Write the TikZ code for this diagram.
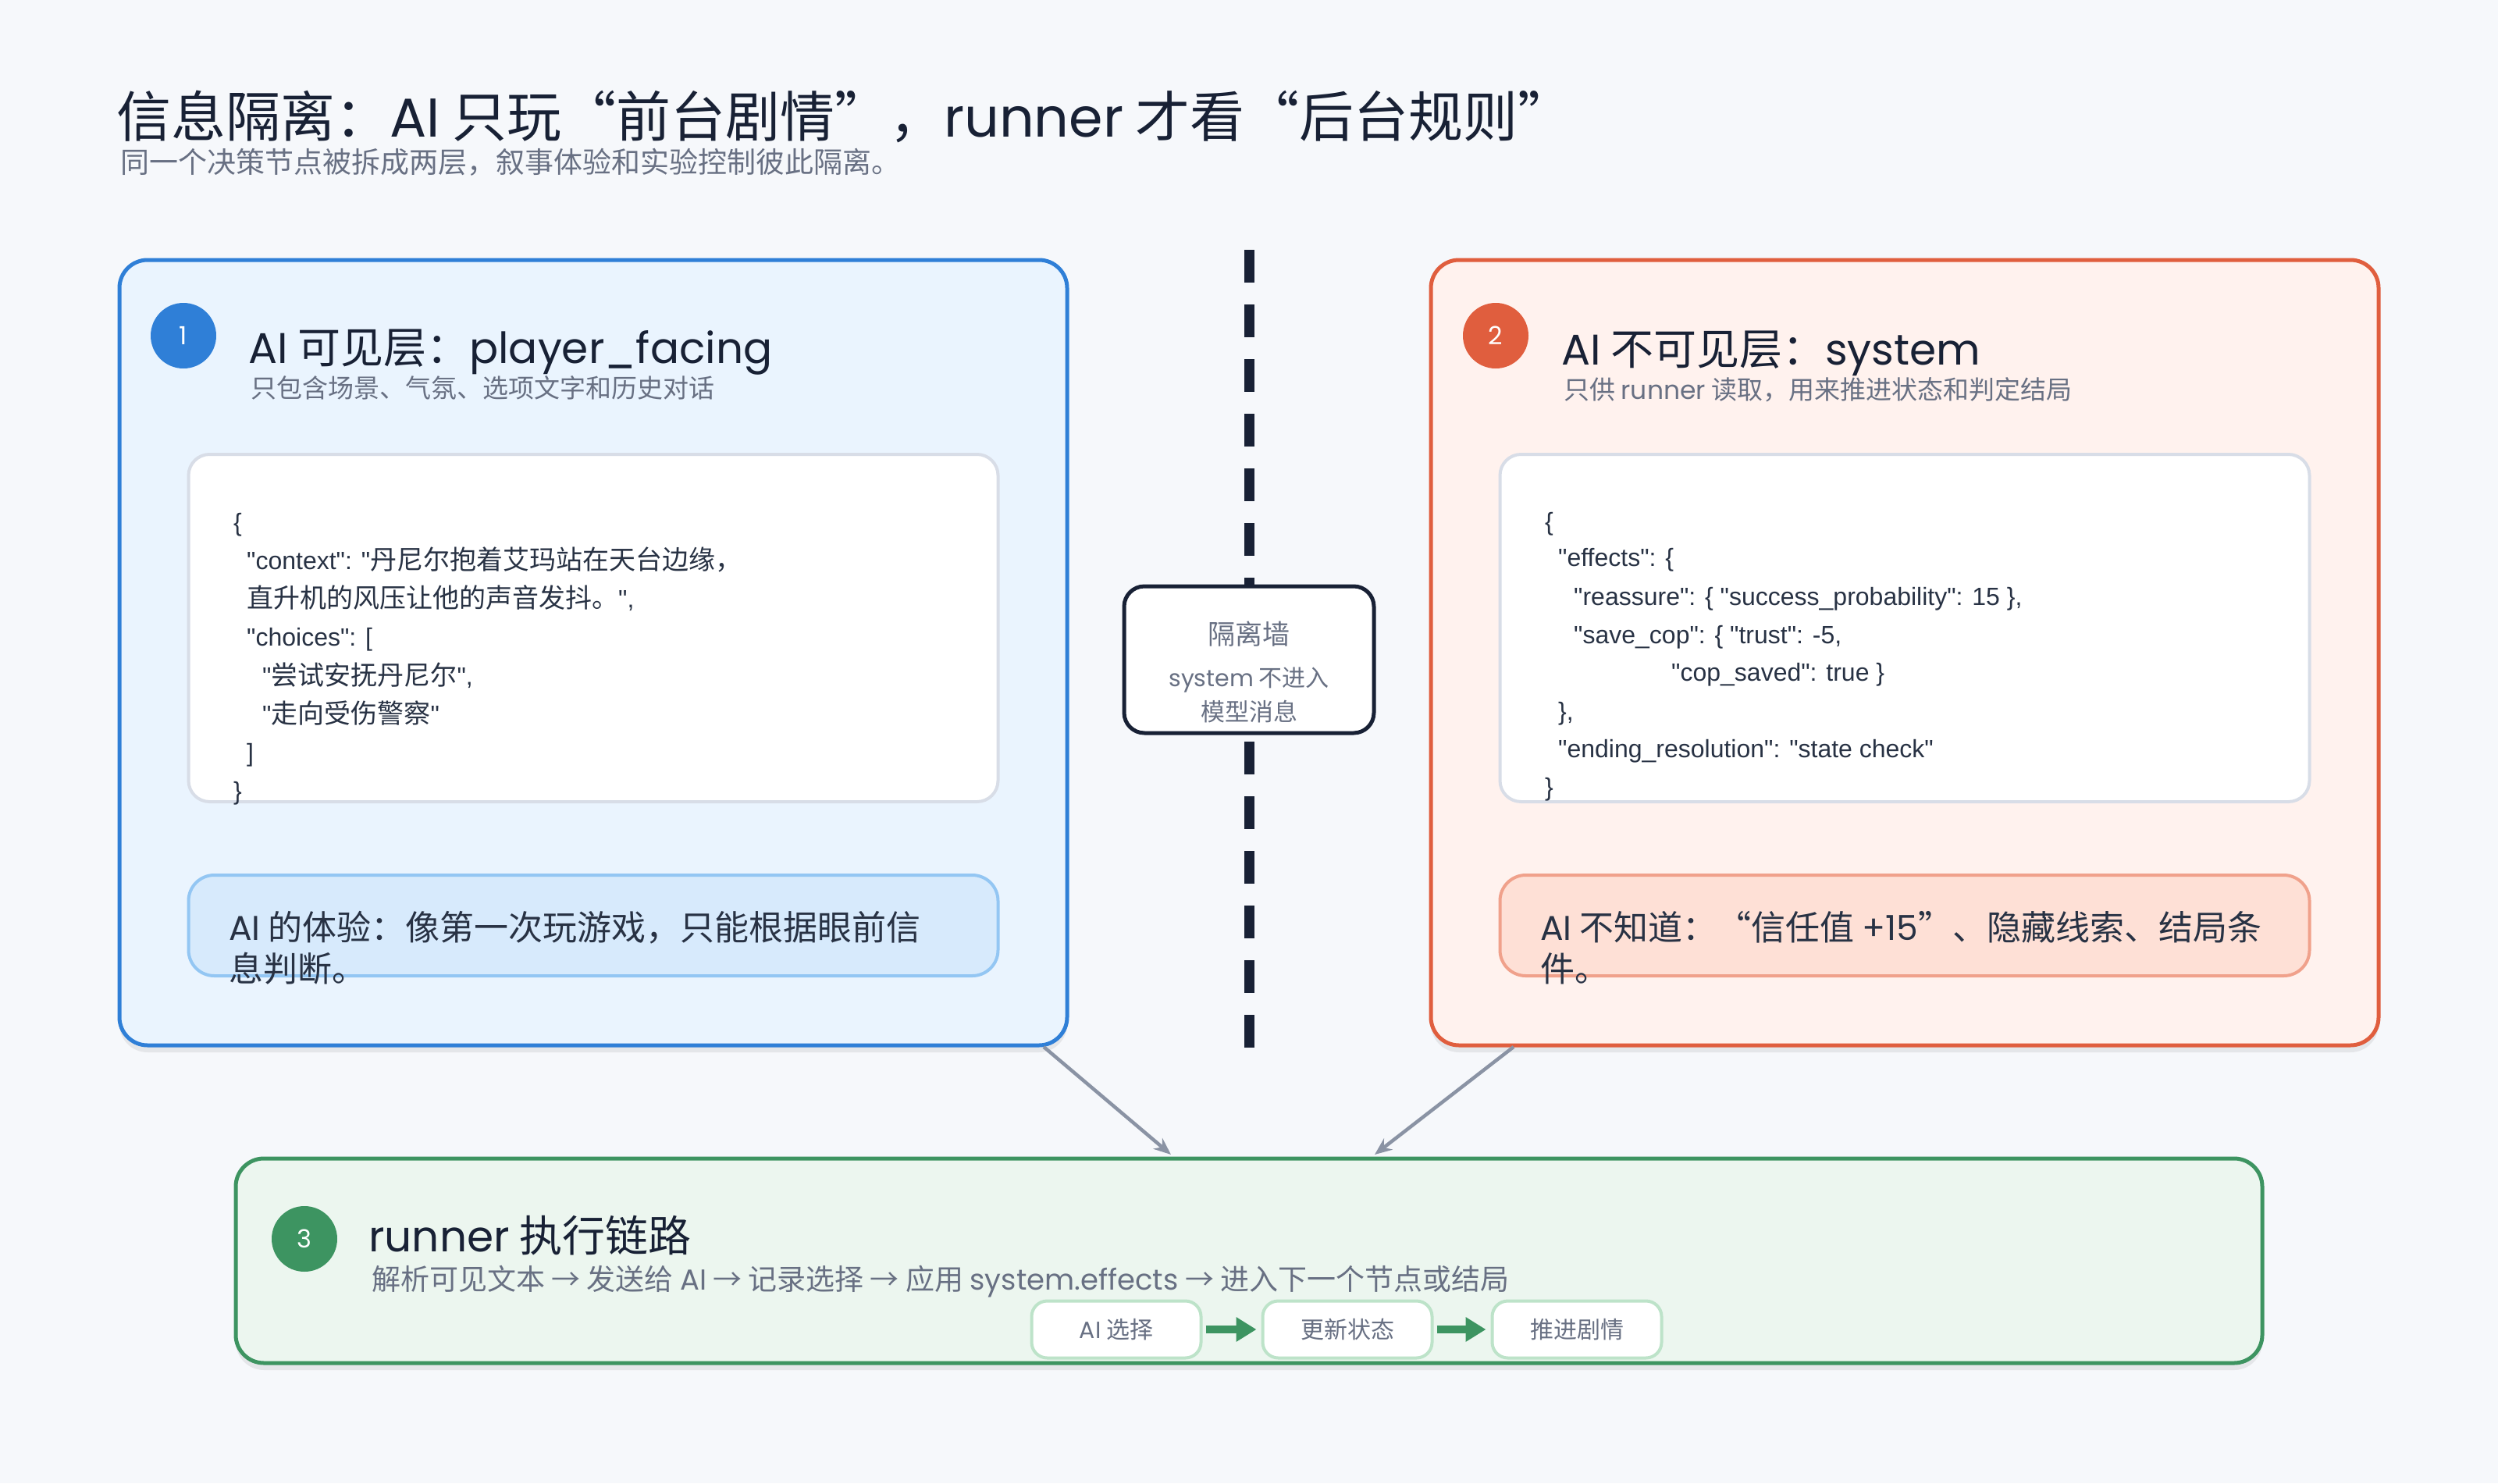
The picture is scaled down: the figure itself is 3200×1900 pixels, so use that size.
\documentclass[tikz,border=0pt]{standalone}
\usepackage{fontspec}
\setmainfont{Noto Sans CJK SC}
\newfontfamily\geo{Poppins}
\newfontfamily\arial{Liberation Sans}
\newcommand\fsz[1]{\fontsize{#1}{#1}\selectfont}
\newcommand\gtx[1]{{\geo #1}}
\newcommand\atx[1]{{\arial\fsz{32}#1}}
\usetikzlibrary{arrows.meta,shadows}
\definecolor{bgc}{HTML}{F6F8FB}
\definecolor{navy}{HTML}{182135}
\definecolor{greyt}{HTML}{687083}
\definecolor{codet}{HTML}{283244}
\definecolor{blueB}{HTML}{2F7FD7}
\definecolor{blueF}{HTML}{EAF4FE}
\definecolor{blueCF}{HTML}{D7EAFC}
\definecolor{blueCB}{HTML}{93C6F3}
\definecolor{orB}{HTML}{E05E3E}
\definecolor{orF}{HTML}{FFF2EE}
\definecolor{orCF}{HTML}{FEE0D6}
\definecolor{orCB}{HTML}{F0A18B}
\definecolor{grB}{HTML}{3D9461}
\definecolor{grF}{HTML}{ECF6EF}
\definecolor{grSB}{HTML}{BDE3C9}
\definecolor{codeB}{HTML}{D8DDE7}
\definecolor{connc}{HTML}{8A93A4}
\tikzset{
  panel/.style={draw, line width=5pt, rounded corners=36pt, inner sep=0pt, outer sep=0pt,
    drop shadow={shadow xshift=0pt, shadow yshift=-9pt, opacity=0.10, fill=black!70}},
  codebox/.style={draw=codeB, fill=white, line width=4pt, rounded corners=27pt, inner sep=0pt,
    minimum width=1037pt, minimum height=445pt},
  callout/.style={line width=4pt, rounded corners=33pt, inner sep=0pt,
    minimum width=1037pt, minimum height=129pt},
  numc/.style={circle, inner sep=0pt, minimum size=84pt, text=white, font=\fsz{32}\geo},
  ptitle/.style={anchor=base west, inner sep=0pt, text=navy, font=\fsz{55}},
  psub/.style={anchor=base west, inner sep=0pt, text=greyt, font=\fsz{33}},
  codeline/.style={anchor=base west, inner sep=0pt, text=codet, font=\fsz{34}},
  calltext/.style={anchor=base west, inner sep=0pt, text=codet, font=\fsz{44}},
  flowbox/.style={draw=grSB, fill=white, line width=4pt, rounded corners=20pt, inner sep=0pt,
    minimum width=217pt, minimum height=73pt, text=greyt, font=\fsz{30}},
  flowarr/.style={draw=grB, line width=10pt, -{Triangle[length=26pt,width=30pt]}},
  conn/.style={draw=connc, line width=4.5pt, -{Stealth[length=22pt,width=18pt]}},
}
\begin{document}
\begin{tikzpicture}[x=1pt,y=-1pt]
\useasboundingbox (0,0) rectangle (3200,1900);
\fill[bgc] (0,0) rectangle (3200,1900);

% main title
\node[anchor=base west, inner sep=0pt, text=navy, font=\fsz{70}] (title) at (149,175)
  {信息隔离：\gtx{AI} 只玩“前台剧情”，\gtx{runner} 才看“后台规则”};
\node[anchor=base west, inner sep=0pt, text=greyt, font=\fsz{37}] (subtitle) at (154,221)
  {同一个决策节点被拆成两层，叙事体验和实验控制彼此隔离。};

% wall
\coordinate (wt) at (1600,320);
\coordinate (wb) at (1600,1342);
\draw[navy, line width=13pt, dash pattern=on 42pt off 28pt] (wt) -- (wb);

% panels
\node[panel, draw=blueB, fill=blueF, minimum width=1214pt, minimum height=1006pt] (L) at (760,836) {};
\node[panel, draw=orB, fill=orF, minimum width=1214pt, minimum height=1006pt] (R) at (2440,836) {};
\node[panel, draw=grB, fill=grF, minimum width=2596pt, minimum height=262pt] (B) at (1600,1615) {};

% left panel content
\node[numc, fill=blueB] (n1) at (235,430) {1};
\node[ptitle] (lt) at (318,465) {\gtx{AI} 可见层：\gtx{player\_facing}};
\node[psub] (ls) at (321,509) {只包含场景、气氛、选项文字和历史对话};
\node[codebox] (lc) at (760,804.5) {};
\node[codeline] (l1) at (299,680) {\atx{\{}};
\node[codeline] (l2) at (316,729) {\atx{"context": "}丹尼尔抱着艾玛站在天台边缘，};
\node[codeline] (l3) at (316,778) {直升机的风压让他的声音发抖。\atx{",}};
\node[codeline] (l4) at (316,827) {\atx{"choices": [}};
\node[codeline] (l5) at (336,877) {\atx{"}尝试安抚丹尼尔\atx{",}};
\node[codeline] (l6) at (336,926) {\atx{"}走向受伤警察\atx{"}};
\node[codeline] (l7) at (316,975) {\atx{]}};
\node[codeline] (l8) at (299,1024) {\atx{\}}};
\node[callout, draw=blueCB, fill=blueCF] (lcall) at (760,1185.5) {};
\node[calltext] (lct1) at (293,1204) {\gtx{AI} 的体验：像第一次玩游戏，只能根据眼前信};
\node[calltext] (lct2) at (293,1257) {息判断。};

% right panel content
\node[numc, fill=orB] (n2) at (1916,430) {2};
\node[ptitle] (rt) at (2000,467) {\gtx{AI} 不可见层：\gtx{system}};
\node[psub] (rs) at (2003,511) {只供 \gtx{runner} 读取，用来推进状态和判定结局};
\node[codebox] (rc) at (2440,804.5) {};
\node[codeline] (r1) at (1979,679) {\atx{\{}};
\node[codeline] (r2) at (1996,725) {\atx{"effects": \{}};
\node[codeline] (r3) at (2016,775) {\atx{"reassure": \{ "success\_probability": 15 \},}};
\node[codeline] (r4) at (2016,824) {\atx{"save\_cop": \{ "trust": -5,}};
\node[codeline] (r5) at (2141,872) {\atx{"cop\_saved": true \}}};
\node[codeline] (r6) at (1996,922) {\atx{\},}};
\node[codeline] (r7) at (1996,970) {\atx{"ending\_resolution": "state check"}};
\node[codeline] (r8) at (1979,1019) {\atx{\}}};
\node[callout, draw=orCB, fill=orCF] (rcall) at (2440,1185.5) {};
\node[calltext] (rct1) at (1973,1204) {\gtx{AI} 不知道：“信任值 \gtx{+15}”、隐藏线索、结局条};
\node[calltext] (rct2) at (1973,1257) {件。};

% middle wall box
\node[draw=navy, fill=white, line width=5pt, rounded corners=26pt, minimum width=320pt,
  minimum height=188pt, inner sep=0pt] (wall) at (1600,845) {};
\node[inner sep=0pt, text=greyt, font=\fsz{35}] (w1) at (1600,812) {隔离墙};
\node[inner sep=0pt, text=greyt, font=\fsz{30}] (w2) at (1600,871) {\gtx{system} 不进入};
\node[inner sep=0pt, text=greyt, font=\fsz{31}] (w3) at (1600,912) {模型消息};

% bottom panel content
\node[numc, fill=grB] (n3) at (390,1587) {3};
\node[ptitle] (bt) at (472,1603) {\gtx{runner} 执行链路};
\node[anchor=base west, inner sep=0pt, text=greyt, font=\fsz{37}] (bs) at (476,1652)
  {解析可见文本 → 发送给 \gtx{AI} → 记录选择 → 应用 \gtx{system.effects} → 进入下一个节点或结局};
\node[flowbox] (f1) at (1430,1703) {\gtx{AI} 选择};
\node[flowbox] (f2) at (1726,1703) {更新状态};
\node[flowbox] (f3) at (2020,1703) {推进剧情};
\draw[flowarr] (f1.east) ++(4pt,0) coordinate (fa1) -- ([xshift=-6pt]f2.west);
\draw[flowarr] (f2.east) ++(4pt,0) coordinate (fa2) -- ([xshift=-6pt]f3.west);

% connectors
\coordinate (c1s) at ([xshift=-30pt,yshift=-2pt]L.south east);
\coordinate (c1e) at ([xshift=-100pt,yshift=5pt]B.north);
\coordinate (c2s) at ([xshift=106pt,yshift=-2pt]R.south west);
\coordinate (c2e) at ([xshift=161pt,yshift=5pt]B.north);
\draw[conn] (c1s) -- (c1e);
\draw[conn] (c2s) -- (c2e);
\end{tikzpicture}
\end{document}
